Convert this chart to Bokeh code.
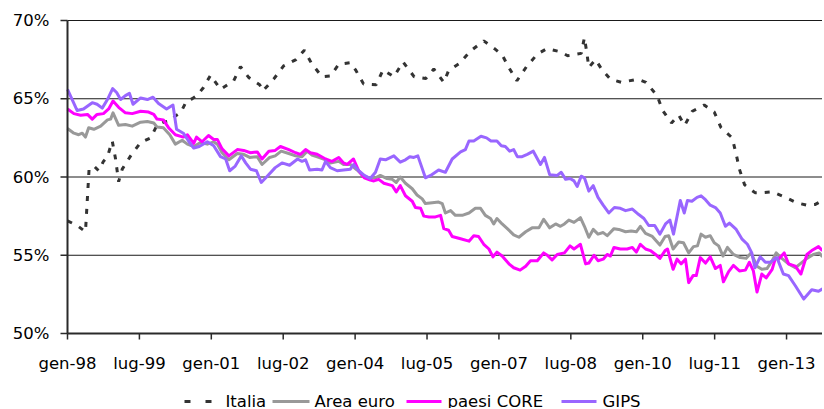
from bokeh.plotting import figure
from bokeh.models import Range1d
from bokeh.core.properties import value
from bokeh.embed import file_html
from bokeh.resources import INLINE

# x positions are months since gen-98
tick_months = [0, 18, 36, 54, 72, 90, 108, 126, 144, 162, 180]
tick_labels = ["gen-98", "lug-99", "gen-01", "lug-02", "gen-04", "lug-05",
               "gen-07", "lug-08", "gen-10", "lug-11", "gen-13"]
y_ticks = [50, 55, 60, 65, 70]
y_labels = ["50%", "55%", "60%", "65%", "70%"]

series_names = ["Italia", "Area euro", "paesi CORE", "GIPS"]

italia_m = [0, 2.4, 4.5, 5.4, 6.6, 7.8, 9, 10, 11.2, 12, 12.8, 13.7, 15.8, 18.3, 20.8, 22.4, 24, 25.8,
            27, 28.3, 29.8, 31.2, 32.4, 34, 35.8, 38.3, 41.6, 43.3, 45.4, 48.1, 48.9, 51.6, 54.1, 57.2,
            59.3, 61, 63.7, 65.8, 67.9, 70.8, 72.1, 74.1, 77.3, 79, 81.7, 84, 86.8, 89.7, 91.7, 94.2,
            95.4, 98.1, 100.9, 104.2, 106.9, 108.8, 110.7, 112.5, 114.9, 117.6, 120, 123.4, 125.2,
            128.6, 129.4, 130, 130.5, 132.2, 133.8, 135.9, 138.6, 142.8, 144.8, 147.6, 149, 151.2,
            153, 154.5, 156.4, 159.4, 161.9, 163.6, 166.4, 167.4, 168.2, 169.5, 172.1, 173.9, 176.4,
            179.7, 182.6, 185.1, 187.2, 189]
italia_v = [57.2, 56.9, 56.5, 60.5, 60.7, 60.4, 61.0, 61.3, 62.3, 61.2, 59.7, 60.5, 61.35, 62.2, 62.5, 63.3,
            63.5, 63.6, 63.9, 64.1, 64.85, 65.0, 65.2, 65.7, 66.5, 65.6, 66.15, 67.05, 66.35, 65.9, 65.5,
            66.25, 67.1, 67.5, 68.1, 67.3, 66.4, 66.45, 67.2, 67.3, 66.85, 65.95, 65.9, 66.85, 66.4, 67.35,
            66.4, 66.3, 66.9, 66.05, 66.8, 67.25, 68.05, 68.7, 68.2, 67.8, 66.9, 66.15, 67.05, 67.85, 68.2,
            68.0, 67.75, 67.9, 68.9, 67.95, 67.0, 67.5, 66.85, 66.25, 66.05, 66.25, 66.05, 65.2, 64.25,
            63.45, 63.95, 63.3, 64.2, 64.6, 64.15, 63.15, 62.5, 61.45, 60.5, 59.5, 59.0, 59.0, 59.05,
            58.7, 58.35, 58.2, 58.25, 58.5]

euro_m = [0, 1.6, 2.8, 3.7, 4.5, 5.3, 6.6, 8.3, 10, 10.8, 11.4, 12.8, 14.5, 16.2, 18.3, 20, 21.6, 22.4,
          24, 25.6, 27, 28.7, 30, 31.6, 33.3, 35, 36.6, 37.5, 38.7, 40.4, 42.5, 44.1, 45.6, 47.5, 48.7,
          50.6, 52, 53.5, 55.4, 57.1, 58.7, 60, 61.2, 62.9, 64.6, 65.8, 67.9, 69.1, 70.8, 72.5, 74.1,
          75.4, 77.1, 78.3, 80, 81.3, 82.3, 83.3, 84.6, 86.3, 87.5, 88.8, 89.6, 91.3, 92.9, 93.8, 94.6,
          95.9, 97.1, 98.8, 100.5, 102.1, 103.4, 104.6, 105.9, 106.7, 107.5, 108.8, 110.1, 111.7, 113,
          114.7, 116.3, 118, 119.2, 120.7, 122.2, 123.4, 124.4, 125.5, 126.8, 128.4, 129.4, 130.5,
          131.6, 132.8, 134.1, 135.1, 136.8, 138, 139.7, 141.1, 142.4, 143.4, 144.7, 146.4, 148.3,
          149.6, 150.5, 151.6, 153, 154.2, 155.5, 156.7, 157.7, 158.6, 159.7, 160.9, 161.9, 163,
          164.1, 165.2, 166.7, 168.4, 169.9, 171.1, 172.6, 173.8, 175.1, 176.4, 177.4, 178.8, 180.5,
          182.2, 183.4, 185.1, 186.7, 188.2, 189]
euro_v = [63.1, 62.8, 62.7, 62.8, 62.55, 63.15, 63.05, 63.25, 63.65, 63.7, 64.1, 63.3, 63.35, 63.25, 63.5,
          63.55, 63.45, 63.2, 63.15, 62.7, 62.1, 62.35, 62.1, 61.95, 62.2, 62.1, 62.25, 62.1, 61.55, 61.1,
          61.5, 61.45, 61.25, 61.3, 60.8, 61.25, 61.35, 61.65, 61.5, 61.35, 61.3, 61.65, 61.4, 61.25, 61.1,
          60.9, 61.0, 60.8, 60.8, 60.45, 60.05, 59.95, 59.95, 60.1, 59.9, 59.85, 59.65, 60.0, 59.6, 59.25,
          58.85, 58.6, 58.3, 58.35, 58.4, 58.3, 57.7, 57.85, 57.55, 57.55, 57.7, 58.0, 58.0, 57.55, 57.35,
          57.0, 57.35, 57.0, 56.7, 56.3, 56.15, 56.5, 56.75, 56.75, 57.3, 56.75, 57.0, 56.85, 57.0, 57.25,
          57.1, 57.4, 56.85, 56.15, 56.65, 56.35, 56.45, 56.25, 56.7, 56.65, 56.5, 56.55, 56.5, 56.85, 56.4,
          56.2, 55.65, 56.2, 56.25, 55.4, 55.85, 55.8, 55.15, 55.55, 55.6, 56.35, 56.15, 56.25, 55.8, 55.6,
          54.95, 55.5, 55.05, 54.85, 54.8, 55.15, 54.3, 54.1, 54.15, 54.65, 55.15, 54.8, 54.45, 54.2, 54.45,
          54.8, 55.05, 55.15, 54.9]

core_m = [0, 1.6, 3.3, 5, 6.2, 7.4, 9, 10.3, 11.4, 12.8, 14.5, 16.2, 18.3, 20.3, 21.6, 22.4, 24, 25.3, 27,
          29, 30, 31.6, 32.3, 33.7, 35.3, 36.6, 37.5, 38.7, 40.4, 42.5, 44.1, 45.8, 47.5, 48.7, 50.4, 52,
          53.3, 55.4, 57.1, 58.3, 59.6, 60.8, 62.5, 64.6, 66.2, 67.9, 69.1, 70, 71.6, 72.9, 74.3, 75.8,
          76.7, 77.9, 79.2, 81.3, 82.3, 83.3, 84.6, 86.3, 87.1, 88.4, 89.2, 90.5, 92.1, 93.4, 94.2, 95.4,
          96.3, 98.4, 100.5, 101.7, 102.9, 104.2, 105.5, 106.5, 107.5, 108.8, 110.5, 111.7, 113.3, 114.7,
          115.9, 117.6, 119.2, 120.1, 121.3, 122.6, 124.4, 125.8, 126.8, 128.4, 129.7, 130.5, 131.8,
          132.8, 134.1, 135.1, 135.9, 136.8, 138.4, 140.1, 141.4, 142.4, 143.4, 144.7, 145.9, 147.2,
          148.3, 149.6, 150.2, 151.6, 152.6, 153.6, 154.7, 155.5, 156.6, 157.4, 158.4, 159.7, 160.9,
          162.2, 163.4, 164.2, 165.5, 166.7, 168.2, 169.7, 170.7, 171.7, 172.6, 173.8, 174.9, 176.4,
          177.2, 178, 179.4, 180.5, 182.2, 183.6, 185.1, 186.3, 188, 189]
core_v = [64.35, 64.05, 63.95, 64.0, 63.7, 64.0, 64.05, 64.35, 64.85, 64.45, 64.1, 64.05, 64.2, 64.15, 64.0,
          63.7, 63.65, 63.15, 62.7, 62.55, 62.7, 62.15, 62.55, 62.25, 62.65, 62.4, 62.4, 61.8, 61.35, 61.75,
          61.7, 61.55, 61.6, 61.15, 61.65, 61.7, 61.95, 61.75, 61.55, 61.45, 61.75, 61.55, 61.45, 61.15,
          61.0, 61.25, 60.9, 60.8, 61.15, 60.4, 59.95, 59.8, 59.75, 59.85, 59.6, 59.45, 59.05, 59.45, 58.8,
          58.45, 58.05, 58.0, 57.5, 57.45, 57.45, 57.55, 56.7, 56.6, 56.2, 56.05, 55.9, 56.25, 56.2, 55.7,
          55.4, 54.9, 55.2, 54.95, 54.45, 54.2, 54.05, 54.3, 54.65, 54.65, 55.15, 55.0, 54.7, 55.05, 55.15,
          55.6, 55.4, 55.7, 54.45, 54.5, 55.0, 54.65, 54.75, 55.05, 54.95, 55.5, 55.4, 55.4, 55.5, 55.2,
          55.7, 55.4, 55.3, 55.05, 54.8, 55.3, 55.4, 54.1, 54.75, 54.45, 54.75, 53.25, 53.7, 53.7, 54.85,
          54.5, 54.9, 54.15, 54.35, 53.3, 53.95, 54.35, 54.0, 54.05, 54.55, 54.0, 52.65, 53.8, 53.55, 54.1,
          54.8, 54.75, 55.15, 54.45, 54.3, 53.8, 55.05, 55.3, 55.55, 55.3]

gips_m = [0, 2.4, 4, 6.2, 7.4, 8.7, 10, 11.3, 12.3, 13.3, 14.5, 15.5, 16.4, 18.3, 20, 21.4, 22.8, 24.8,
          26.4, 27.3, 29, 30.3, 31.6, 33, 35, 36.6, 38.3, 39.6, 40.6, 42, 43.5, 44.6, 45.8, 47.3, 48.5,
          50, 52, 53.7, 55.6, 57.6, 58.7, 59.6, 60.6, 62.5, 63.7, 64.6, 65.8, 67.5, 69.1, 70.8, 71.6,
          72.9, 74.3, 75.8, 77.1, 78.3, 79.6, 81.7, 83.3, 84.6, 85.7, 86.7, 87.7, 89.6, 90.9, 92.9,
          94.6, 96.3, 98.4, 99.6, 100.5, 101.7, 103.5, 104.9, 106, 107.5, 108.6, 109.6, 110.7, 111.7,
          112.6, 113.8, 115.1, 116.6, 118.4, 119.4, 120.7, 122.6, 123.6, 124.7, 125.8, 126.8, 127.6,
          128.6, 129.4, 130.5, 131.6, 132.8, 134.1, 135.5, 136.9, 138.4, 139.7, 141.4, 143, 144.3,
          145.5, 147, 148.3, 149.7, 150.8, 151.7, 153.4, 154.4, 155.2, 156.3, 157.6, 158.6, 159.7,
          160.9, 162.2, 163.4, 164.7, 165.7, 167.4, 168.8, 170.2, 171.3, 172.1, 173.4, 174.7, 175.9,
          177.6, 179.2, 180.5, 182.2, 184.3, 186.3, 188, 189]
gips_v = [65.6, 64.25, 64.35, 64.75, 64.65, 64.4, 64.95, 65.65, 65.4, 64.95, 65.2, 65.35, 64.65, 65.05, 64.95,
          65.1, 64.7, 64.35, 64.6, 63.05, 62.8, 62.3, 61.85, 61.95, 62.25, 62.0, 61.3, 61.15, 60.4, 60.7,
          61.35, 60.9, 60.5, 60.4, 59.65, 60.05, 60.6, 60.9, 60.75, 61.15, 61.0, 61.1, 60.45, 60.5, 60.45,
          61.0, 60.6, 60.4, 60.45, 60.5, 60.8, 60.4, 60.1, 59.9, 60.3, 61.15, 61.1, 61.35, 60.95, 61.1, 61.3,
          61.25, 61.35, 59.95, 60.1, 60.45, 60.3, 61.15, 61.6, 61.75, 62.3, 62.3, 62.6, 62.5, 62.3, 62.3,
          62.0, 61.95, 61.65, 61.75, 61.3, 61.3, 61.45, 61.65, 60.8, 61.25, 60.15, 60.1, 60.3, 59.85, 59.9,
          59.75, 59.4, 60.05, 59.95, 59.1, 59.45, 58.7, 58.2, 57.7, 58.05, 58.0, 57.85, 57.95, 57.6, 57.35,
          56.9, 56.9, 56.35, 57.0, 57.25, 56.35, 58.5, 57.7, 58.5, 58.45, 58.7, 58.8, 58.55, 58.2, 58.05,
          57.7, 56.85, 57.05, 56.65, 56.05, 55.7, 55.15, 54.2, 54.9, 54.55, 54.55, 54.85, 53.8, 53.7, 53.05,
          52.2, 52.8, 52.7, 52.85]

FONT = "DejaVu Sans"
AX = "#2a2a2a"
styles = [dict(line_color="#333333", line_width=3, line_dash="5 8"),
          dict(line_color="#999999", line_width=3, line_join="round"),
          dict(line_color="#FF00FF", line_width=3, line_join="round"),
          dict(line_color="#9966FF", line_width=3, line_join="round")]
legend_dash = ["6 15", "solid", "solid", "solid"]

# geometry in pixels: the frame covers the whole picture so that axis labels
# and legend (drawn through the same scales) are never clipped
W, H = 822, 408
LEFT, TOP = 67, 20                          # where the 0-month / 70% corner sits
X_END, Y_LO, Y_HI = 189, 50, 70
PPU = 313 / (Y_HI - Y_LO)                   # pixels per percentage point
ppm = (W - LEFT) / X_END                    # pixels per month
x_start = -LEFT / ppm
y_top = Y_HI + TOP / PPU
y_bottom = Y_HI - (H - TOP) / PPU

def px_to_m(px):                            # picture x pixel -> month position
    return (px - LEFT) / ppm

def below(px):                              # pixels below the 50% line -> value
    return Y_LO - px / PPU

p = figure(width=W, height=H, output_backend="svg", toolbar_location=None,
           x_range=Range1d(x_start, X_END), y_range=Range1d(y_bottom, y_top),
           x_axis_location=None, y_axis_location=None,
           min_border_left=0, min_border_right=0, min_border_top=0, min_border_bottom=0)
p.outline_line_color = None
p.background_fill_color = "white"
p.border_fill_color = "white"
p.grid.visible = False

n_y = len(y_ticks)
n_x = len(tick_months)

# horizontal gridlines
p.segment(x0=[0] * n_y, y0=y_ticks, x1=[X_END] * n_y, y1=y_ticks,
          line_color="#1a1a1a", line_width=1)

# data series
for (mm, vv), st in zip([(italia_m, italia_v), (euro_m, euro_v), (core_m, core_v), (gips_m, gips_v)], styles):
    p.line(mm, vv, **st)

# y axis: line, outward ticks, labels
p.segment(x0=[0], y0=[Y_LO], x1=[0], y1=[Y_HI], line_color=AX, line_width=2)
p.segment(x0=[0] * n_y, y0=y_ticks, x1=[px_to_m(LEFT - 7)] * n_y, y1=y_ticks,
          line_color=AX, line_width=1.5)
p.text(x=[px_to_m(49)] * n_y, y=y_ticks, text=y_labels,
       text_font=value(FONT), text_font_size="16.5px", text_color="black",
       text_align="right", text_baseline="middle")

# x axis: line, outward ticks, labels
p.segment(x0=[0], y0=[Y_LO], x1=[X_END], y1=[Y_LO], line_color=AX, line_width=2)
p.segment(x0=tick_months, y0=[Y_LO] * n_x, x1=tick_months, y1=[below(6)] * n_x,
          line_color=AX, line_width=1.5)
p.text(x=tick_months, y=[below(30)] * n_x, text=tick_labels,
       text_font=value(FONT), text_font_size="16.5px", text_color="black",
       text_align="center", text_baseline="middle")

# legend row (picture pixel positions)
leg_glyph_px = [(184, 211), (272, 309), (406, 441), (561, 596)]
leg_text_px = [225, 314, 447, 602]
leg_y = below(68)
for (a, b), st, dash in zip(leg_glyph_px, styles, legend_dash):
    p.segment(x0=[px_to_m(a)], y0=[leg_y], x1=[px_to_m(b)], y1=[leg_y],
              line_color=st["line_color"], line_width=3, line_dash=dash)
p.text(x=[px_to_m(t) for t in leg_text_px], y=[leg_y] * 4, text=series_names,
       text_font=value(FONT), text_font_size="16.5px", text_color="black",
       text_align="left", text_baseline="middle")

open("out.html", "w").write(file_html(p, INLINE))
